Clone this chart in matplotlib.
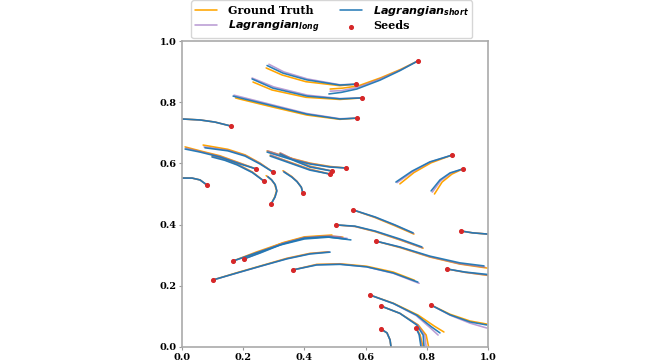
import matplotlib.pyplot as plt

# seed positions (trajectories end here)
seeds_x = [0.771, 0.569, 0.588, 0.572, 0.160, 0.082, 0.242, 0.297, 0.268, 0.291,
           0.395, 0.536, 0.490, 0.484, 0.882, 0.918, 0.559, 0.503, 0.634, 0.167,
           0.203, 0.101, 0.363, 0.912, 0.866, 0.614, 0.650, 0.765, 0.650, 0.814]
seeds_y = [0.935, 0.859, 0.814, 0.748, 0.722, 0.529, 0.582, 0.572, 0.542, 0.467,
           0.503, 0.585, 0.575, 0.565, 0.627, 0.582, 0.448, 0.399, 0.346, 0.281,
           0.288, 0.219, 0.252, 0.379, 0.255, 0.170, 0.134, 0.062, 0.059, 0.137]

# trajectory points following each seed
gt_paths = [
    [(0.714, 0.907), (0.650, 0.880), (0.575, 0.853), (0.525, 0.846), (0.484, 0.843)],
    [(0.516, 0.854), (0.405, 0.867), (0.327, 0.889), (0.275, 0.912)],
    [(0.516, 0.809), (0.405, 0.816), (0.294, 0.840), (0.232, 0.866)],
    [(0.516, 0.744), (0.408, 0.758), (0.297, 0.784), (0.190, 0.810), (0.175, 0.814)],
    [(0.108, 0.735), (0.059, 0.742), (0.003, 0.745)],
    [(0.059, 0.546), (0.033, 0.552), (0.003, 0.553)],
    [(0.190, 0.601), (0.124, 0.625), (0.059, 0.641), (0.010, 0.654)],
    [(0.255, 0.601), (0.206, 0.628), (0.150, 0.646), (0.069, 0.660)],
    [(0.230, 0.572), (0.180, 0.598), (0.140, 0.613), (0.098, 0.624)],
    [(0.303, 0.490), (0.309, 0.511), (0.303, 0.532), (0.291, 0.548), (0.275, 0.560)],
    [(0.390, 0.522), (0.376, 0.541), (0.359, 0.557), (0.330, 0.576)],
    [(0.484, 0.590), (0.418, 0.601), (0.353, 0.618), (0.278, 0.641)],
    [(0.418, 0.591), (0.369, 0.611), (0.320, 0.634)],
    [(0.418, 0.581), (0.353, 0.604), (0.288, 0.627)],
    [(0.814, 0.602), (0.758, 0.570), (0.712, 0.533)],
    [(0.882, 0.565), (0.850, 0.539), (0.825, 0.500)],
    [(0.631, 0.423), (0.696, 0.396), (0.758, 0.369)],
    [(0.565, 0.394), (0.631, 0.377), (0.712, 0.350), (0.788, 0.323)],
    [(0.712, 0.325), (0.810, 0.294), (0.908, 0.271), (0.997, 0.258)],
    [(0.242, 0.310), (0.320, 0.337), (0.400, 0.358), (0.480, 0.363), (0.526, 0.359)],
    [(0.255, 0.310), (0.330, 0.341), (0.400, 0.360), (0.490, 0.366)],
    [(0.180, 0.243), (0.260, 0.266), (0.343, 0.290), (0.418, 0.306), (0.478, 0.311)],
    [(0.440, 0.270), (0.516, 0.272), (0.603, 0.264), (0.690, 0.245), (0.760, 0.218)],
    [(0.950, 0.373), (0.999, 0.369)],
    [(0.925, 0.244), (0.999, 0.234)],
    [(0.691, 0.143), (0.772, 0.104), (0.825, 0.068), (0.856, 0.049)],
    [(0.712, 0.110), (0.772, 0.072), (0.798, 0.039), (0.806, 0.0)],
    [(0.778, 0.040), (0.788, 0.0)],
    [(0.670, 0.046), (0.680, 0.023), (0.683, 0.0)],
    [(0.876, 0.107), (0.941, 0.085), (0.996, 0.075)],
]

long_paths = [
    [(0.713, 0.905), (0.648, 0.876), (0.573, 0.848), (0.522, 0.838), (0.484, 0.836)],
    [(0.516, 0.857), (0.410, 0.876), (0.333, 0.899), (0.284, 0.924)],
    [(0.516, 0.812), (0.410, 0.823), (0.300, 0.850), (0.229, 0.879)],
    [(0.516, 0.746), (0.408, 0.763), (0.297, 0.791), (0.190, 0.818), (0.170, 0.823)],
    [(0.108, 0.735), (0.059, 0.742), (0.003, 0.745)],
    [(0.059, 0.546), (0.033, 0.552), (0.003, 0.552)],
    [(0.190, 0.600), (0.124, 0.623), (0.059, 0.639), (0.013, 0.650)],
    [(0.255, 0.600), (0.206, 0.626), (0.150, 0.643), (0.072, 0.654)],
    [(0.230, 0.571), (0.180, 0.597), (0.140, 0.612), (0.101, 0.624)],
    [(0.304, 0.490), (0.310, 0.510), (0.304, 0.531), (0.292, 0.547), (0.279, 0.558)],
    [(0.390, 0.522), (0.376, 0.541), (0.359, 0.556), (0.332, 0.574)],
    [(0.484, 0.589), (0.418, 0.600), (0.353, 0.617), (0.280, 0.641)],
    [(0.418, 0.590), (0.369, 0.610), (0.322, 0.634)],
    [(0.418, 0.580), (0.353, 0.603), (0.290, 0.627)],
    [(0.810, 0.604), (0.754, 0.573), (0.703, 0.537)],
    [(0.878, 0.568), (0.845, 0.543), (0.818, 0.506)],
    [(0.631, 0.424), (0.696, 0.398), (0.757, 0.371)],
    [(0.565, 0.394), (0.631, 0.378), (0.712, 0.351), (0.786, 0.324)],
    [(0.712, 0.326), (0.810, 0.295), (0.908, 0.272), (0.990, 0.261)],
    [(0.242, 0.308), (0.320, 0.335), (0.400, 0.355), (0.480, 0.361), (0.540, 0.355)],
    [(0.255, 0.308), (0.330, 0.339), (0.400, 0.358), (0.480, 0.363), (0.520, 0.360)],
    [(0.180, 0.242), (0.260, 0.265), (0.343, 0.289), (0.418, 0.305), (0.482, 0.311)],
    [(0.440, 0.269), (0.516, 0.271), (0.603, 0.262), (0.690, 0.241), (0.775, 0.208)],
    [(0.950, 0.373), (0.999, 0.369)],
    [(0.925, 0.244), (0.999, 0.235)],
    [(0.691, 0.142), (0.765, 0.103), (0.812, 0.062), (0.837, 0.039)],
    [(0.712, 0.110), (0.770, 0.072), (0.793, 0.039), (0.798, 0.0)],
    [(0.776, 0.040), (0.784, 0.0)],
    [(0.670, 0.046), (0.680, 0.023), (0.683, 0.0)],
    [(0.876, 0.104), (0.941, 0.078), (0.996, 0.062)],
]

short_paths = [
    [(0.712, 0.903), (0.647, 0.872), (0.571, 0.843), (0.520, 0.832), (0.480, 0.827)],
    [(0.516, 0.856), (0.408, 0.873), (0.330, 0.895), (0.278, 0.920)],
    [(0.516, 0.811), (0.408, 0.820), (0.297, 0.846), (0.229, 0.876)],
    [(0.516, 0.745), (0.408, 0.761), (0.297, 0.788), (0.190, 0.814), (0.167, 0.820)],
    [(0.108, 0.735), (0.059, 0.742), (0.003, 0.745)],
    [(0.059, 0.546), (0.033, 0.552), (0.003, 0.552)],
    [(0.190, 0.598), (0.124, 0.621), (0.059, 0.637), (0.010, 0.647)],
    [(0.255, 0.598), (0.206, 0.624), (0.150, 0.641), (0.075, 0.651)],
    [(0.230, 0.570), (0.180, 0.595), (0.140, 0.610), (0.098, 0.621)],
    [(0.304, 0.490), (0.310, 0.510), (0.305, 0.530), (0.294, 0.545), (0.281, 0.556)],
    [(0.390, 0.522), (0.376, 0.540), (0.359, 0.555), (0.333, 0.572)],
    [(0.484, 0.588), (0.418, 0.598), (0.353, 0.614), (0.278, 0.637)],
    [(0.418, 0.588), (0.369, 0.608), (0.320, 0.631)],
    [(0.418, 0.578), (0.353, 0.601), (0.288, 0.624)],
    [(0.810, 0.605), (0.752, 0.575), (0.699, 0.539)],
    [(0.876, 0.569), (0.843, 0.546), (0.814, 0.510)],
    [(0.631, 0.425), (0.696, 0.399), (0.755, 0.373)],
    [(0.565, 0.395), (0.631, 0.379), (0.712, 0.353), (0.784, 0.327)],
    [(0.712, 0.327), (0.810, 0.297), (0.908, 0.275), (0.987, 0.265)],
    [(0.242, 0.307), (0.320, 0.333), (0.400, 0.353), (0.480, 0.359), (0.552, 0.350)],
    [(0.255, 0.307), (0.330, 0.337), (0.400, 0.356), (0.470, 0.360), (0.536, 0.353)],
    [(0.180, 0.242), (0.260, 0.265), (0.343, 0.288), (0.418, 0.304), (0.484, 0.310)],
    [(0.440, 0.268), (0.516, 0.270), (0.603, 0.262), (0.690, 0.242), (0.771, 0.212)],
    [(0.950, 0.373), (0.999, 0.369)],
    [(0.925, 0.245), (0.999, 0.237)],
    [(0.691, 0.142), (0.767, 0.104), (0.815, 0.066), (0.843, 0.046)],
    [(0.712, 0.110), (0.767, 0.072), (0.788, 0.039), (0.791, 0.0)],
    [(0.775, 0.040), (0.781, 0.0)],
    [(0.670, 0.046), (0.680, 0.023), (0.683, 0.0)],
    [(0.876, 0.105), (0.941, 0.082), (0.996, 0.072)],
]

ticks = [0.0, 0.2, 0.4, 0.6, 0.8, 1.0]

plt.rcParams['font.family'] = 'DejaVu Serif'
plt.rcParams['font.weight'] = 'bold'

fig = plt.figure(figsize=(6.72, 3.61), dpi=100)
ax = fig.add_axes([0.2708, 0.0388, 0.4554, 0.8476])

styles = [
    (gt_paths, 'orange', 1.0, 'Ground Truth'),
    (long_paths, '#9467bd', 0.65, r'$\mathbfit{Lagrangian}_{\mathbfit{long}}$'),
    (short_paths, '#1f77b4', 0.95, r'$\mathbfit{Lagrangian}_{\mathbfit{short}}$'),
]
handles = []
for paths, col, alpha, label in styles:
    for i, path in enumerate(paths):
        xs = [seeds_x[i]] + [p[0] for p in path]
        ys = [seeds_y[i]] + [p[1] for p in path]
        ln, = ax.plot(xs, ys, color=col, alpha=alpha, lw=1.15,
                      solid_capstyle='round', solid_joinstyle='round')
    ln.set_label(label)
    handles.append(ln)

sc = ax.scatter(seeds_x, seeds_y, s=7, color='#d62728', zorder=5, label='Seeds')
handles.append(sc)

ax.set_xlim(0, 1)
ax.set_ylim(0, 1)
ax.set_xticks(ticks)
ax.set_yticks(ticks)
ax.tick_params(labelsize=7, length=2.5, width=0.8, color='#999999', pad=1.5)
for s in ax.spines.values():
    s.set_color('#aaaaaa')
    s.set_linewidth(1.2)

ax.legend(handles=handles, ncol=2, loc='lower center', bbox_to_anchor=(0.49, 1.0),
          borderaxespad=0.25, columnspacing=1.8, handletextpad=1.0,
          labelspacing=0.25, borderpad=0.3, prop={'weight': 'bold', 'size': 8})

plt.savefig('out.png', dpi=100)
plt.close()
